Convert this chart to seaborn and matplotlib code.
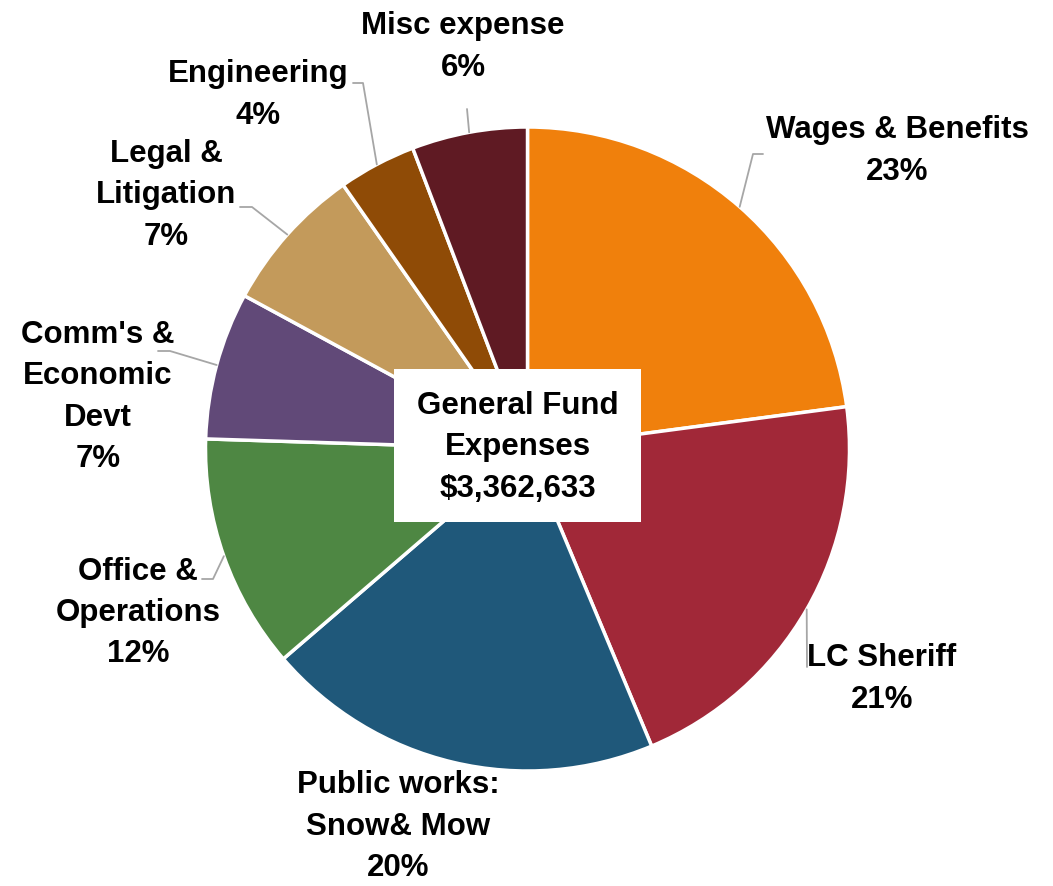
import matplotlib
matplotlib.use('Agg')
import matplotlib.pyplot as plt
from matplotlib import font_manager
from matplotlib.patches import Rectangle
import numpy as np
import seaborn as sns

# ---- data ----
categories = ['Wages & Benefits', 'LC Sheriff', 'Public works:\nSnow& Mow',
              'Office &\nOperations', "Comm's &\nEconomic\nDevt",
              'Legal &\nLitigation', 'Engineering', 'Misc expense']
shares = [22.9, 20.8, 20.0, 11.8, 7.4, 7.4, 3.9, 5.8]
total_label = 'General Fund\nExpenses\n$3,362,633'
colors = ['#F0800C', '#A12838', '#1F587A', '#4E8743',
          '#614978', '#C39A5B', '#8F4B06', '#5F1A23']

# ---- layout (pixel positions on the 1053x887 canvas) ----
W, H = 1053, 887
cx, cy, R = 527.5, 450, 322
label_pos = [(897, 151), (882, 679), (398, 827), (138, 613),
             (98, 397), (166, 195), (258, 95), (463, 47)]
# leader line bends/ends; None = no leader
leader_pts = [[(753, 155), (763, 155)], [(807, 668)], None,
              [(213, 580), (202, 580)], [(170, 352), (158, 352)],
              [(252, 208), (240, 208)], [(363, 84), (353, 84)], [(467, 110)]]


def px(x, y):
    return (x - cx) / R, (cy - y) / R


sns.set_theme(style='white')
avail = {f.name for f in font_manager.fontManager.ttflist}
family = 'DejaVu Sans'
for cand in ['Liberation Sans Narrow', 'Arial Narrow', 'DejaVu Sans Condensed', 'Liberation Sans']:
    if cand in avail:
        family = cand
        break
plt.rcParams['font.family'] = [family, 'DejaVu Sans']
FS = 22.5
LS = 1.5

fig = plt.figure(figsize=(W / 100, H / 100), dpi=100)
ax = fig.add_axes([0, 0, 1, 1])

wedges, _ = ax.pie(shares, colors=colors, startangle=90, counterclock=False,
                   radius=1, wedgeprops=dict(edgecolor='white', linewidth=2.5))

# pie() resets the limits, so set them afterwards
ax.set_xlim(px(0, 0)[0], px(W, 0)[0])
ax.set_ylim(px(0, H)[1], px(0, 0)[1])
ax.set_aspect('equal')
ax.axis('off')

tot = sum(shares)
for i, w in enumerate(wedges):
    mid = np.deg2rad((w.theta1 + w.theta2) / 2)
    x0, y0 = np.cos(mid), np.sin(mid)
    if leader_pts[i] is not None:
        xs = [x0] + [px(*p)[0] for p in leader_pts[i]]
        ys = [y0] + [px(*p)[1] for p in leader_pts[i]]
        ax.plot(xs, ys, color='#A6A6A6', lw=1.3, zorder=1)
    lx, ly = px(*label_pos[i])
    ax.text(lx, ly, f'{categories[i]}\n{shares[i] / tot * 100:.0f}%',
            ha='center', va='center', fontsize=FS, fontweight='bold',
            color='black', linespacing=LS)

# centre box
bx0, by0 = px(394, 523)
bx1, by1 = px(641, 370)
ax.add_patch(Rectangle((bx0, by0), bx1 - bx0, by1 - by0, facecolor='white',
                       edgecolor='none', zorder=3))
ax.text(*px(517.5, 447), total_label, ha='center', va='center', fontsize=FS,
        fontweight='bold', color='black', linespacing=LS, zorder=4)

fig.savefig('out.png', dpi=100)
